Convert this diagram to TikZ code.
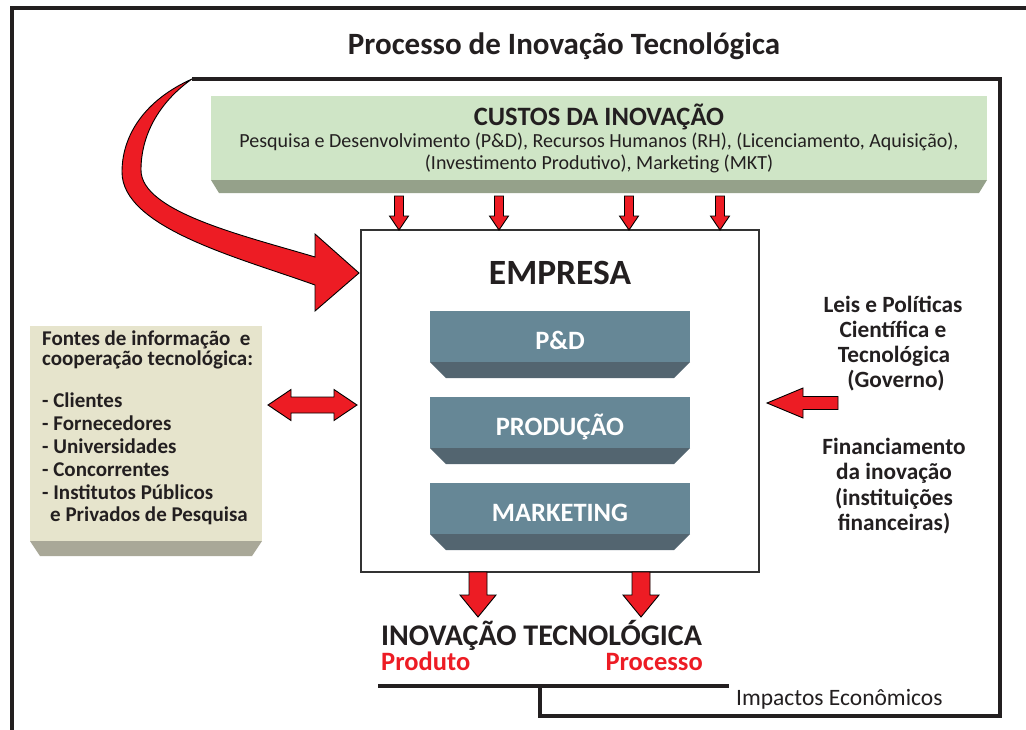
\documentclass[tikz,border=0pt]{standalone}
\usepackage{fontspec}
\setmainfont{Carlito}
\usetikzlibrary{calc}
\definecolor{arrred}{HTML}{ED1C24}
\definecolor{framek}{HTML}{231F20}
\definecolor{greenface}{HTML}{CFE5C6}
\definecolor{greenbev}{HTML}{95A18A}
\definecolor{beigeface}{HTML}{E6E4CC}
\definecolor{beigebev}{HTML}{A9A898}
\definecolor{slateface}{HTML}{668796}
\definecolor{slatebev}{HTML}{536570}
\newcommand{\blkarrow}[5]{%
  \coordinate (bkH) at ($(#2)!#5!(#1)$);
  \filldraw[redarrow] ($(#1)!#3!90:(#2)$) -- ($(bkH)!#3!-90:(#1)$) -- ($(bkH)!#4!-90:(#1)$) -- (#2) -- ($(bkH)!#4!90:(#1)$) -- ($(bkH)!#3!90:(#1)$) -- ($(#1)!#3!-90:(#2)$) -- cycle;}
\newcommand{\dblarrow}[5]{%
  \coordinate (bkH) at ($(#2)!#5!(#1)$);
  \coordinate (bkT) at ($(#1)!#5!(#2)$);
  \filldraw[redarrow] (#1) -- ($(bkT)!#4!90:(#2)$) -- ($(bkT)!#3!90:(#2)$) -- ($(bkH)!#3!-90:(#1)$) -- ($(bkH)!#4!-90:(#1)$) -- (#2) -- ($(bkH)!#4!90:(#1)$) -- ($(bkH)!#3!90:(#1)$) -- ($(bkT)!#3!-90:(#2)$) -- ($(bkT)!#4!-90:(#2)$) -- cycle;}
\newcommand{\bevelbox}[4]{%
  \fill[#2] (#1.south west) -- (#1.south east) -- ($(#1.south east)+(-#3,#4)$) -- ($(#1.south west)+(#3,#4)$) -- cycle;}
\begin{document}
\begin{tikzpicture}[x=1pt,y=-1pt,
  frame/.style={line width=4.5pt, draw=framek},
  redarrow/.style={fill=arrred, draw=black, line width=0.9pt, line join=miter},
  boxface/.style={inner sep=0pt, outer sep=0pt, anchor=north west},
  txt/.style={inner sep=0pt, text=framek},
  blocktext/.style={txt, anchor=base, text=white, font=\bfseries\fontsize{26.5}{30}\selectfont},
  lefttext/.style={txt, anchor=base west, font=\bfseries\fontsize{21}{23}\selectfont},
  righttext/.style={txt, anchor=base, font=\bfseries\fontsize{23.3}{25}\selectfont}]
\fill[white] (0,0) rectangle (1026,729);
\useasboundingbox (0,0) rectangle (1026,729);
% frames
\draw[frame] (12,740) -- (12,8) -- (1040,8);
\draw[frame, line width=4pt] (192,79) -- (1000,79) -- (1000,716) -- (540,716) -- (540,686);
\draw[frame, line width=4pt] (378,686) -- (729,686);
% title
\node[txt, anchor=base, font=\bfseries\fontsize{31}{36}\selectfont] (title) at (564,54) {Processo de Inovação Tecnológica};
% costs box
\node[boxface, fill=greenface, minimum width=776pt, minimum height=84pt] (costs) at (211,96) {};
\bevelbox{costs}{greenbev}{8}{13}
\node[txt, anchor=base, font=\bfseries\fontsize{26.5}{30}\selectfont] (costsT) at (599,125) {CUSTOS DA INOVAÇÃO};
\node[txt, anchor=base, font=\fontsize{20}{22}\selectfont] (costs1) at (599,147) {Pesquisa e Desenvolvimento (P\&D), Recursos Humanos (RH), (Licenciamento, Aquisição),};
\node[txt, anchor=base, font=\fontsize{20}{22}\selectfont] (costs2) at (599,169) {(Investimento Produtivo), Marketing (MKT)};
% empresa
\node[boxface, draw=black!80, line width=1.2pt, fill=white, minimum width=398pt, minimum height=342pt] (emp) at (361,230) {};
\node[txt, anchor=base, font=\bfseries\fontsize{35.5}{40}\selectfont] (empT) at (560,284) {EMPRESA};
\node[boxface, fill=slateface, minimum width=260pt, minimum height=51pt] (pd) at (430,311) {};
\bevelbox{pd}{slatebev}{16}{16}
\node[blocktext] (pdT) at ($(pd.north)+(0,38)$) {P\&D};
\node[boxface, fill=slateface, minimum width=260pt, minimum height=51pt] (prod) at (430,397) {};
\bevelbox{prod}{slatebev}{16}{16}
\node[blocktext] (prodT) at ($(prod.north)+(0,38)$) {PRODUÇÃO};
\node[boxface, fill=slateface, minimum width=260pt, minimum height=51pt] (mkt) at (430,483) {};
\bevelbox{mkt}{slatebev}{16}{16}
\node[blocktext] (mktT) at ($(mkt.north)+(0,38)$) {MARKETING};
% left box
\node[boxface, fill=beigeface, minimum width=232pt, minimum height=215pt] (fontes) at (30,326) {};
\bevelbox{fontes}{beigebev}{10}{15}
\node[lefttext, align=left, font=\bfseries\fontsize{21}{18}\selectfont] (f1) at (42,365) {Fontes de informação~ e\\cooperação tecnológica:};
\node[lefttext] (f3) at (42,407) {- Clientes};
\node[lefttext] (f4) at (42,430) {- Fornecedores};
\node[lefttext] (f5) at (42,453) {- Universidades};
\node[lefttext] (f6) at (42,476) {- Concorrentes};
\node[lefttext] (f7) at (42,499) {- Institutos Públicos};
\node[lefttext] (f8) at (50,521) {e Privados de Pesquisa};
% right text
\node[righttext] (r1) at (893,312) {Leis e Políticas};
\node[righttext] (r2) at (893,337) {Científica e};
\node[righttext] (r3) at (894,362) {Tecnológica};
\node[righttext] (r4) at (896,387) {(Governo)};
\node[righttext] (r5) at (894,454) {Financiamento};
\node[righttext] (r6) at (894,479) {da inovação};
\node[righttext] (r7) at (894,505) {(instituições};
\node[righttext] (r8) at (894,530) {financeiras)};
% bottom texts
\node[txt, anchor=base west, font=\bfseries\fontsize{30}{34}\selectfont] (inov) at (381,645) {INOVAÇÃO TECNOLÓGICA};
\node[txt, anchor=base west, text=arrred, font=\bfseries\fontsize{26.5}{30}\selectfont] (prodto) at (381,670) {Produto};
\node[txt, anchor=base east, text=arrred, font=\bfseries\fontsize{26.5}{30}\selectfont] (proc) at (703,670) {Processo};
\node[txt, anchor=base west, font=\fontsize{23.5}{26}\selectfont] (imp) at (736,705) {Impactos Econômicos};
% small down arrows
\coordinate (a1s) at (399,196); \coordinate (a1e) at (a1s |- emp.north);
\coordinate (a2s) at (499,196); \coordinate (a2e) at (a2s |- emp.north);
\coordinate (a3s) at (629,196); \coordinate (a3e) at (a3s |- emp.north);
\coordinate (a4s) at (720,196); \coordinate (a4e) at (a4s |- emp.north);
\blkarrow{a1s}{a1e}{4.5pt}{9.5pt}{14pt}
\blkarrow{a2s}{a2e}{4.5pt}{9.5pt}{14pt}
\blkarrow{a3s}{a3e}{4.5pt}{9.5pt}{14pt}
\blkarrow{a4s}{a4e}{4.5pt}{9.5pt}{14pt}
% double arrow
\coordinate (dl) at (268,405); \coordinate (dr) at (357,405);
\dblarrow{dl}{dr}{8pt}{15.5pt}{23pt}
% right arrow
\coordinate (gs) at (838,403); \coordinate (ge) at (767,403);
\blkarrow{gs}{ge}{6.5pt}{15pt}{36pt}
% bottom arrows
\coordinate (b1s) at (478,572); \coordinate (b1e) at (478,617);
\coordinate (b2s) at (641,572); \coordinate (b2e) at (641,617);
\blkarrow{b1s}{b1e}{9pt}{18pt}{22pt}
\blkarrow{b2s}{b2e}{9pt}{18pt}{22pt}
% curved arrow
\filldraw[redarrow] (192,79) .. controls (145,100) and (122,135) .. (122,172) .. controls (122,228) and (240,258) .. (315,285) -- (315,311) -- (359,273) -- (315,234) -- (315,257) .. controls (245,236) and (141,212) .. (141,170) .. controls (141,132) and (162,100) .. (192,79) -- cycle;
\end{tikzpicture}
\end{document}
